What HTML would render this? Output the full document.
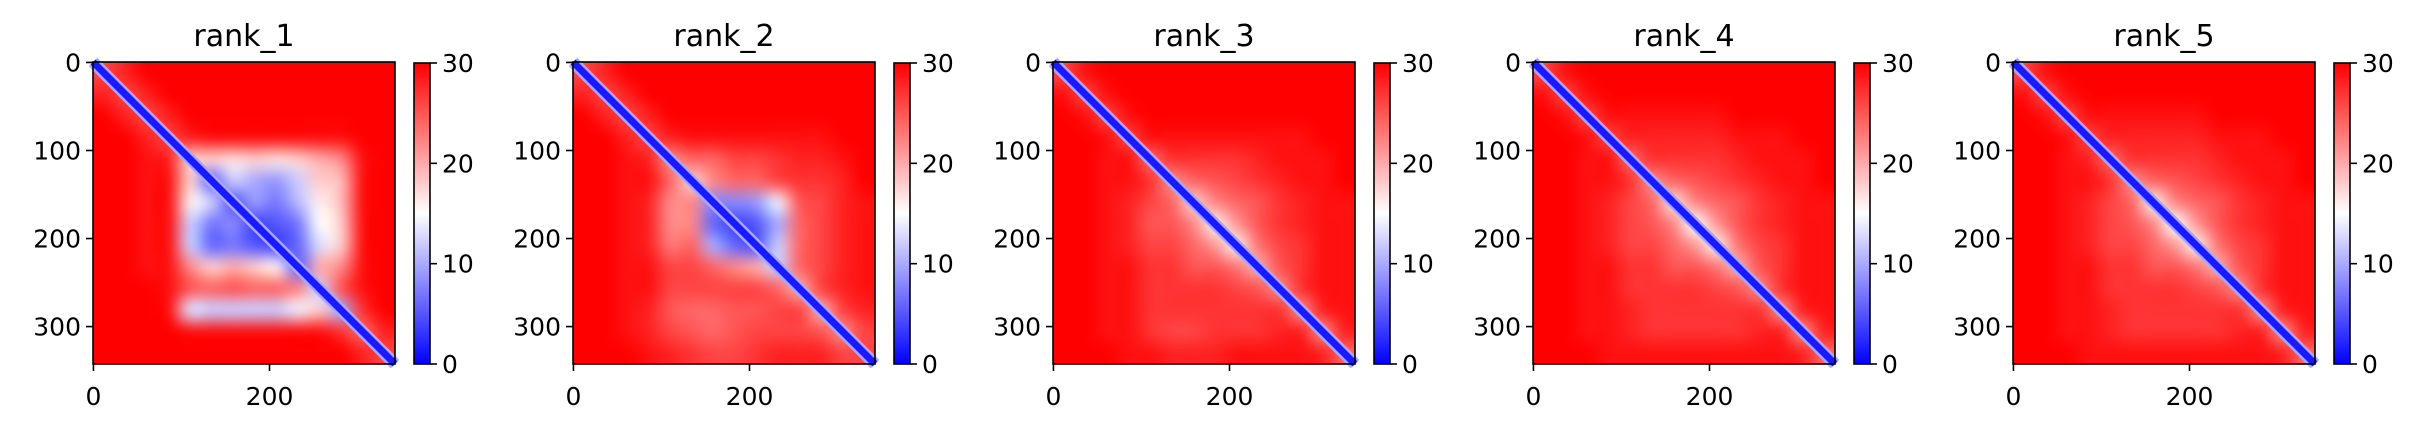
<!DOCTYPE html>
<html><head><meta charset="utf-8">
<style>
html,body{margin:0;padding:0;background:#fff;}
#wrap{position:relative;width:2428px;height:432px;overflow:hidden;}
canvas{position:absolute;}
svg{position:absolute;left:0;top:0;}
text{font-family:"DejaVu Sans","Liberation Sans",sans-serif;fill:#000;}
</style></head>
<body>
<div id="wrap">
<svg id="svg" width="2428" height="432"></svg>
</div>
<script>
const titles = ["rank_1","rank_2","rank_3","rank_4","rank_5"];
const seqLen = 343;
const xTicks = [0,200];
const yTicks = [0,100,200,300];
const cbTicks = [0,10,20,30];
const paeMax = 30;
const pae1 = [
[26,28,30,30,30,30,30,30,30,30,30,30,30,30],
[28,26,28,30,30,30,30,30,30,30,30,30,30,30],
[30,28,26,28,30,30,30,30,30,30,30,30,30,30],
[30,30,28,26,28,29,29,29,29,29,29,29,30,30],
[30,30,29,28,18,18,17,18,17,18,20,22,29,30],
[30,30,29,29,18,6,12,10,9,12,18,19,29,30],
[30,30,29,29,16,12,5,9,7,11,16,19,29,30],
[30,30,29,29,12,7,8,4,5,7,15,18,29,30],
[30,30,29,29,12,6,7,5,4,6,13,18,29,30],
[30,30,29,29,22,18,20,18,16,6,20,22,29,30],
[30,30,30,29,25,24,25,24,24,22,12,25,29,30],
[30,30,30,29,13,12,12,12,12,14,18,10,27,30],
[30,30,30,30,29,29,29,29,29,29,29,27,24,28],
[30,30,30,30,30,30,30,30,30,30,30,30,28,26]];
const pae2 = [
[26,28,30,30,30,30,30,30,30,30,30,30,30,30],
[28,26,28,30,30,30,30,30,30,30,30,30,30,30],
[30,28,26,28,30,30,30,30,30,30,30,30,30,30],
[30,30,28,26,28,29,29,29,29,29,29,29,30,30],
[30,30,29,28,22,24,24,26,26,27,28,28,29,30],
[30,30,29,29,24,18,22,24,24,26,27,27,28,30],
[30,30,29,28,22,22,8,8,9,14,25,26,28,29],
[30,30,29,28,22,22,6,4,5,10,24,26,28,29],
[30,30,29,28,23,24,10,6,5,12,24,26,28,29],
[30,30,29,29,26,26,24,22,20,12,24,26,28,29],
[30,30,29,29,26,26,26,26,26,24,20,26,28,29],
[30,30,29,28,25,24,24,25,25,26,26,20,26,28],
[30,30,29,28,26,25,24,25,26,26,26,25,22,26],
[30,30,30,29,28,27,26,26,27,28,28,28,26,26]];
const pae3 = [
[26,29,30,30,30,30,30,30,30,30,30,30,30,30],
[29,26,29,30,30,30,30,30,30,30,30,30,30,30],
[30,29,26,29,30,30,30,30,30,30,30,30,30,30],
[30,30,29,26,29,29,29,29,29,29,29,29,30,30],
[30,30,29,29,24,27,27,27,27,28,29,29,29,30],
[30,30,29,29,27,22,24,25,26,27,28,29,29,30],
[30,30,29,28,26,24,18,22,24,25,27,28,29,29],
[30,30,29,28,25,25,22,16,21,25,27,28,29,29],
[30,30,29,28,26,26,24,21,16,23,26,27,29,29],
[30,30,29,29,27,27,25,25,23,20,25,27,29,29],
[30,30,29,29,27,27,27,27,26,25,22,27,29,29],
[30,30,29,29,27,27,27,27,27,27,27,22,28,29],
[30,30,29,29,27,26,26,27,27,27,28,28,22,28],
[30,30,30,29,29,28,28,28,29,29,29,29,28,24]];
const pae4 = [
[26,29,30,30,30,30,30,30,30,30,30,30,30,30],
[29,26,29,30,30,30,30,30,30,30,30,30,30,30],
[30,29,26,29,29,29,29,29,29,30,30,30,30,30],
[30,30,29,26,28,28,28,28,28,29,29,29,30,30],
[30,30,29,29,24,27,27,27,27,28,29,29,29,30],
[30,30,29,29,27,22,24,25,26,27,28,29,29,30],
[30,30,29,28,26,24,17,22,24,25,27,28,29,29],
[30,30,29,28,26,25,22,15,21,25,27,28,29,29],
[30,30,29,28,26,26,24,21,16,23,26,27,29,29],
[30,30,29,29,27,27,25,25,23,20,25,27,29,29],
[30,30,29,29,27,27,27,27,26,25,22,27,29,29],
[30,30,29,29,28,27,27,27,27,27,27,22,28,29],
[30,30,29,29,28,27,27,27,27,27,28,28,22,28],
[30,30,30,29,29,29,29,29,29,29,29,29,28,24]];
const pae5 = [
[26,29,30,30,30,30,30,30,30,30,30,30,30,30],
[29,26,29,30,30,30,30,30,30,30,30,30,30,30],
[30,29,26,29,29,29,29,29,29,30,30,30,30,30],
[30,30,29,26,28,28,28,28,28,29,29,29,30,30],
[30,30,29,28,24,27,27,27,27,28,29,29,29,30],
[30,30,29,29,27,22,24,25,26,27,28,29,29,30],
[30,30,29,28,26,24,16,22,24,25,27,28,29,29],
[30,30,29,28,26,25,22,15,21,25,27,28,29,29],
[30,30,29,28,26,26,24,21,16,23,26,27,29,29],
[30,30,29,29,27,27,25,25,23,20,25,27,29,29],
[30,30,29,29,27,27,27,27,26,25,22,27,29,29],
[30,30,29,29,28,27,27,27,27,27,27,22,28,29],
[30,30,29,29,28,27,27,27,27,27,28,28,22,28],
[30,30,30,29,29,29,29,29,29,29,29,29,28,24]];
const panels = [pae1,pae2,pae3,pae4,pae5];

const NS="http://www.w3.org/2000/svg";
const svg=document.getElementById('svg');
const wrap=document.getElementById('wrap');
const P0=93, PSTEP=480, TOP=62, SIZE=302;
function bwr(v){
  let t=Math.max(0,Math.min(1,v/paeMax));
  if(t<0.5){const k=t/0.5;return [Math.round(255*k),Math.round(255*k),255];}
  const k=(t-0.5)/0.5;return [255,Math.round(255*(1-k)),Math.round(255*(1-k))];
}
function mk(tag,attrs,parent){const e=document.createElementNS(NS,tag);for(const k in attrs)e.setAttribute(k,attrs[k]);(parent||svg).appendChild(e);return e;}

panels.forEach((mat,pi)=>{
  const left=P0+pi*PSTEP;
  const xs=v=>left+(v+0.5)/seqLen*SIZE;
  const ys=v=>TOP+(v+0.5)/seqLen*SIZE;
  const g=mk('g',{});
  
  
  const n=mat.length;
  const small=document.createElement('canvas');small.width=n;small.height=n;
  const sc=small.getContext('2d');const img=sc.createImageData(n,n);
  mat.forEach((row,r)=>row.forEach((v,c)=>{const [R,G,B]=bwr(v);const o=(r*n+c)*4;img.data[o]=R;img.data[o+1]=G;img.data[o+2]=B;img.data[o+3]=255;}));
  sc.putImageData(img,0,0);
  const cv=document.createElement('canvas');cv.width=SIZE;cv.height=SIZE;
  cv.style.left=left+'px';cv.style.top=TOP+'px';
  
  
  const cx=cv.getContext('2d');cx.imageSmoothingEnabled=true;cx.imageSmoothingQuality='high';
  cx.drawImage(small,0,0,SIZE,SIZE);
  wrap.insertBefore(cv,svg);
  const h=mk('line',{x1:xs(-0.5),y1:ys(-0.5),x2:xs(seqLen-0.5),y2:ys(seqLen-0.5),stroke:'#a8a8ff','stroke-width':12},g);
  
  
  const d=mk('line',{x1:xs(-0.5),y1:ys(-0.5),x2:xs(seqLen-0.5),y2:ys(seqLen-0.5),stroke:'#1a1aff','stroke-width':7},g);
  
  
  const fr=mk('rect',{x:left,y:TOP,width:SIZE,height:SIZE,fill:'none',stroke:'#000','stroke-width':1.6},g);
  
  
  const t=mk('text',{x:left+SIZE/2,y:46,'text-anchor':'middle','font-size':30},g);t.textContent=titles[pi];
  
  
  yTicks.forEach(v=>{
    const y=ys(v);
    const tk=mk('line',{x1:left-7,x2:left,y1:y,y2:y,stroke:'#000','stroke-width':1.6},g);
    
    
    const tl=mk('text',{x:left-12,y:y+9,'text-anchor':'end','font-size':25},g);tl.textContent=v;
    
    
  });
  xTicks.forEach(v=>{
    const x=xs(v);
    const tk=mk('line',{x1:x,x2:x,y1:TOP+SIZE,y2:TOP+SIZE+7,stroke:'#000','stroke-width':1.6},g);
    
    
    const tl=mk('text',{x:x,y:405,'text-anchor':'middle','font-size':25},g);tl.textContent=v;
    
    
  });
  const cbx=left+321, cbw=16;
  const gid='cbg'+pi;
  const defs=mk('defs',{},g);
  const lg=mk('linearGradient',{id:gid,x1:0,y1:1,x2:0,y2:0},defs);
  mk('stop',{offset:'0','stop-color':'#0000ff'},lg);
  mk('stop',{offset:'0.5','stop-color':'#ffffff'},lg);
  mk('stop',{offset:'1','stop-color':'#ff0000'},lg);
  const cb=mk('rect',{x:cbx,y:TOP+1,width:cbw,height:SIZE-1,fill:'url(#'+gid+')',stroke:'#000','stroke-width':1.6},g);
  
  
  const cys=v=>TOP+1+(1-v/paeMax)*(SIZE-1);
  cbTicks.forEach(v=>{
    const y=cys(v);
    const tk=mk('line',{x1:cbx+cbw,x2:cbx+cbw+7,y1:y,y2:y,stroke:'#000','stroke-width':1.6},g);
    
    
    const tl=mk('text',{x:cbx+cbw+12,y:y+9,'text-anchor':'start','font-size':25},g);tl.textContent=v;
    
    
  });
});
</script>
</body></html>
